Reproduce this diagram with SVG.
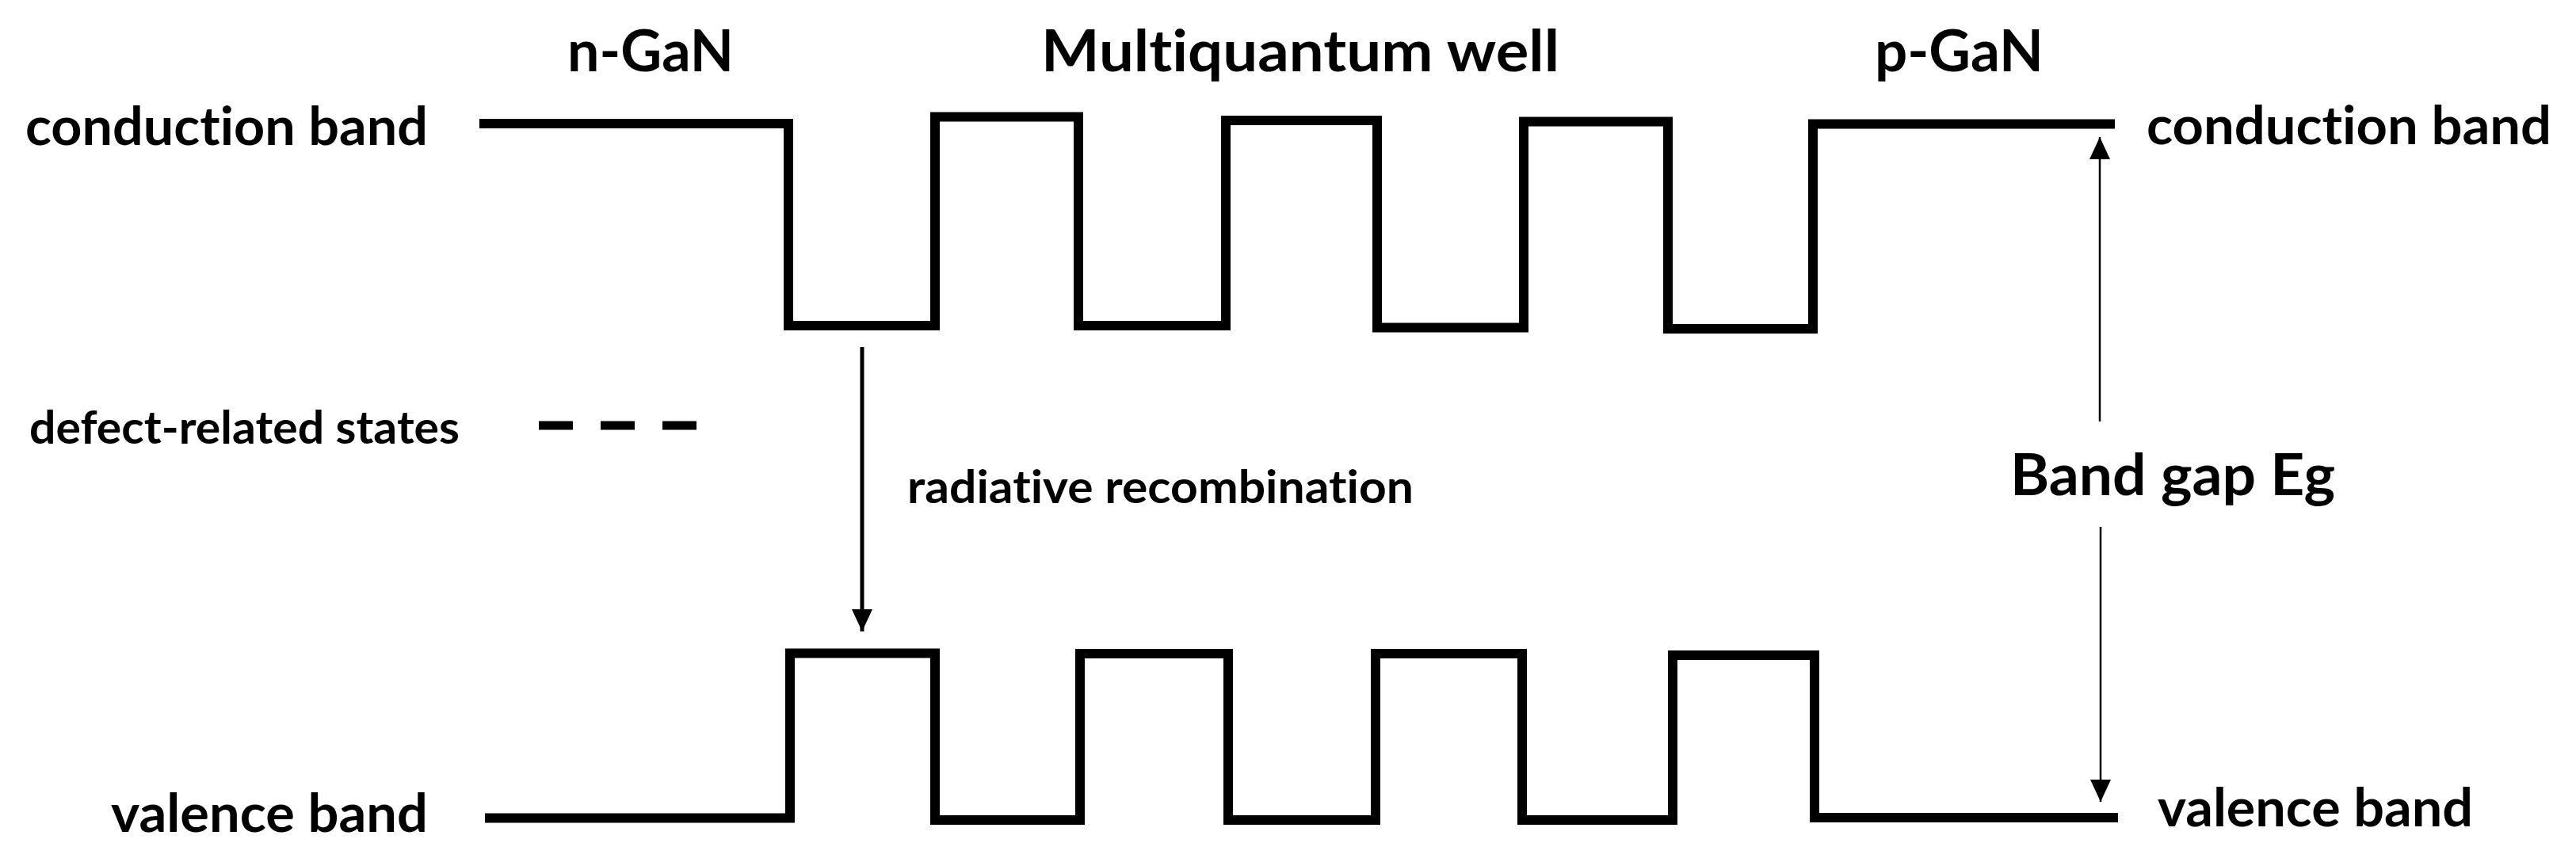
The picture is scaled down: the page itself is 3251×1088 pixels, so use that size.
<svg xmlns="http://www.w3.org/2000/svg" width="3251" height="1088" viewBox="0 0 3251 1088">
<style>
  text { font-family: Lato, "Open Sans", "Liberation Sans", sans-serif; font-weight: bold; fill: #000; font-variant-ligatures: none; }
  .title { font-size: 72px; }
  .lbl { font-size: 66px; }
  .sm { font-size: 58px; }
  .band { fill: none; stroke: #000; stroke-width: 12; stroke-linejoin: miter; stroke-linecap: butt; }
  .defect { fill: none; stroke: #000; stroke-width: 11; stroke-dasharray: 43 35; }
  .arrow { fill: none; stroke: #000; }
</style>
<defs>
  <marker id="head" markerUnits="userSpaceOnUse" markerWidth="30" markerHeight="28" refX="28" refY="13" orient="auto" viewBox="0 0 30 28">
    <path d="M0,0 L28,13 L0,26 Z" fill="#000"/>
  </marker>
</defs>
<rect width="3251" height="1088" fill="#fff"/>

<g id="titles">
  <text id="t-ngan" class="title" x="716" y="90" textLength="210" lengthAdjust="spacingAndGlyphs">n-GaN</text>
  <text id="t-mqw" class="title" x="1314" y="90" textLength="654" lengthAdjust="spacingAndGlyphs">Multiquantum well</text>
  <text id="t-pgan" class="title" x="2366" y="90" textLength="213" lengthAdjust="spacingAndGlyphs">p-GaN</text>
</g>

<g id="conduction-band">
  <path class="band" d="M605 156 H995 V411 H1180 V147.5 H1361 V411 H1547 V152 H1738 V413.5 H1923 V153.5 H2105 V415 H2288 V156.5 H2669"/>
  <text class="lbl" x="32" y="183" textLength="508" lengthAdjust="spacingAndGlyphs">conduction band</text>
  <text class="lbl" x="2709" y="182" textLength="511" lengthAdjust="spacingAndGlyphs">conduction band</text>
</g>

<g id="valence-band">
  <path class="band" d="M612 1032.5 H997 V824.5 H1180 V1035 H1363 V825 H1550 V1035 H1736 V825 H1921 V1035 H2111 V827 H2290 V1032 H2673"/>
  <text class="lbl" x="140" y="1050" textLength="400" lengthAdjust="spacingAndGlyphs">valence band</text>
  <text class="lbl" x="2723" y="1043" textLength="398" lengthAdjust="spacingAndGlyphs">valence band</text>
</g>

<g id="defect-states">
  <line class="defect" x1="680" y1="537" x2="879" y2="537"/>
  <text class="sm" x="37" y="560" textLength="543" lengthAdjust="spacingAndGlyphs">defect-related states</text>
</g>

<g id="radiative-label">
  <text class="sm" x="1145" y="635" textLength="639" lengthAdjust="spacingAndGlyphs">radiative recombination</text>
</g>

<g id="bandgap-label">
  <text class="title" x="2537" y="625" textLength="410" lengthAdjust="spacingAndGlyphs">Band gap Eg</text>
</g>

<g id="connectors">
  <line class="arrow" stroke-width="5" x1="1088" y1="438" x2="1088" y2="797" marker-end="url(#head)"/>
  <line class="arrow" stroke-width="2.5" x1="2650" y1="532" x2="2650" y2="173" marker-end="url(#head)"/>
  <line class="arrow" stroke-width="2.5" x1="2651" y1="665" x2="2651" y2="1012" marker-end="url(#head)"/>
</g>
</svg>
